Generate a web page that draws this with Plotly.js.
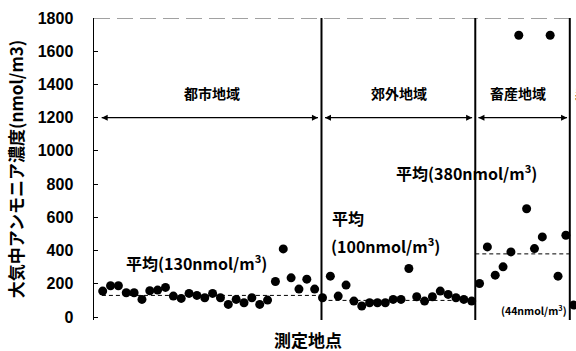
<!DOCTYPE html>
<html>
<head>
<meta charset="utf-8">
<script src="https://cdn.plot.ly/plotly-3.0.1.min.js"></script>
<style>html,body{margin:0;padding:0;background:#fff;}#chart{width:576px;height:351px;}</style>
</head>
<body>
<div id="chart"></div>
<script>
// Region names
const regions = ["都市地域", "郊外地域", "畜産地域", "森林地域"];
// Measured concentrations (nmol/m3) per site, by region
const urbanValues = [156,188,188,146,146,106,158,162,178,126,112,142,130,116,142,116,76,106,86,116,76,102,214,410,236,168,228,168];
const suburbanValues = [116,246,126,192,96,66,86,86,86,106,106,292,122,96,122,156,136,116,106,96];
const livestockValues = [202,422,252,302,392,1696,652,412,482,1696,246,492];
const forestValues = [72];
// Region means (nmol/m3)
const regionMeans = [130, 100, 380, 44];
const meanLabels = ["平均(130nmol/m<sup>3</sup>)", "平均", "(100nmol/m<sup>3</sup>)", "平均(380nmol/m<sup>3</sup>)", "(44nmol/m<sup>3</sup>)"];
// y-axis ticks
const yTicks = [0,200,400,600,800,1000,1200,1400,1600,1800];

const groups = [urbanValues, suburbanValues, livestockValues, forestValues];
let idx = 0;
const xs = [], ys = [];
groups.forEach(g => { g.forEach(v => { xs.push(idx); ys.push(v); idx++; }); });
// boundaries between regions (site index units)
const bounds = [27.87, 47.46, 59.5];
const xMin = -1.108, xMax = 60.29;

const shapes = [];
// top dashed frame line
shapes.push({type:'line', xref:'x', yref:'y', x0:xMin, x1:xMax, y0:1800, y1:1800, line:{color:'#444', width:1, dash:'16px,7px'}});
// separators
bounds.forEach(b => shapes.push({type:'line', xref:'x', yref:'y', x0:b, x1:b, y0:-28, y1:1800, line:{color:'#000', width:2}}));
// mean dashed lines
const meanSpans = [[-0.1, bounds[0]], [bounds[0], bounds[1]], [bounds[1], bounds[2]]];
meanSpans.forEach((s, k) => shapes.push({type:'line', xref:'x', yref:'y', x0:s[0], x1:s[1], y0:regionMeans[k], y1:regionMeans[k], line:{color:'#000', width:1, dash:'4px,3px'}}));

const boldFont = {family:'"Noto Sans CJK JP", "Noto Sans", sans-serif', size:15, color:'#000', weight:'bold'};
const annotations = [];
// region labels
const labelX = [13.9, 37.8, 52.9, 59.85];
regions.forEach((r, k) => annotations.push({x:labelX[k], y:1350, xref:'x', yref:'y', text:'<b>'+r+'</b>', showarrow:false, font:Object.assign({}, boldFont, {size:14}), xanchor: k===3 ? 'left':'center'}));
// mean labels
annotations.push({x:12, y:330, xref:'x', yref:'y', text:'<b>'+meanLabels[0]+'</b>', showarrow:false, font:Object.assign({}, boldFont, {size:16})});
annotations.push({x:29.0, y:596, xref:'x', yref:'y', text:'<b>'+meanLabels[1]+'</b>', showarrow:false, xanchor:'left', font:Object.assign({}, boldFont, {size:16})});
annotations.push({x:28.8, y:432, xref:'x', yref:'y', text:'<b>'+meanLabels[2]+'</b>', showarrow:false, xanchor:'left', font:Object.assign({}, boldFont, {size:16})});
annotations.push({x:46.3, y:872, xref:'x', yref:'y', text:'<b>'+meanLabels[3]+'</b>', showarrow:false, font:Object.assign({}, boldFont, {size:16})});
annotations.push({x:59.4, y:40, xref:'x', yref:'y', text:'<b>'+meanLabels[4]+'</b>', showarrow:false, xanchor:'right', font:Object.assign({}, boldFont, {size:10.5})});
// x title
annotations.push({x:(308-94)/482, xref:'paper', y:(320-340)/302, yref:'paper', yanchor:'middle', xanchor:'center', text:'<b>測定地点</b>', showarrow:false, font:Object.assign({}, boldFont, {size:17})});

const trace = {x:xs, y:ys, type:'scatter', mode:'markers', marker:{color:'#000', size:9}, cliponaxis:true, hoverinfo:'skip'};

// double-headed arrows at 1200 spanning each region
const arrowSpans = [[-0.13, bounds[0]-0.45], [bounds[0]+0.45, bounds[1]-0.4], [bounds[1]+0.4, bounds[2]-0.35]];
const arrowTraces = arrowSpans.map(s => ({x:[s[0], s[1]], y:[1200, 1200], type:'scatter', mode:'lines+markers',
  line:{color:'#000', width:1.2}, marker:{symbol:['arrow-left','arrow-right'], size:6, color:'#000'}, cliponaxis:false, hoverinfo:'skip'}));

const layout = {
  width:576, height:351,
  margin:{l:94, r:0, t:18, b:31, pad:0},
  paper_bgcolor:'#fff', plot_bgcolor:'#fff',
  showlegend:false,
  xaxis:{range:[xMin, xMax], visible:false, showgrid:false, zeroline:false},
  yaxis:{range:[-18, 1800], tickvals:yTicks, ticktext:yTicks.map(String), ticks:'inside', ticklen:4, tickwidth:1, tickcolor:'#000',
    showline:true, linecolor:'#000', linewidth:1.5, showgrid:false, zeroline:false,
    ticklabelstandoff:16,
    tickfont:{family:'"Liberation Sans", Arial, sans-serif', size:16, color:'#000', weight:'bold'},
    title:{text:'<b>大気中アンモニア濃度(nmol/m3)</b>', standoff:10, font:{family:'"Noto Sans CJK JP", sans-serif', size:17, color:'#000', weight:'bold'}}},
  shapes:shapes,
  annotations:annotations
};
Plotly.newPlot('chart', [trace].concat(arrowTraces), layout, {staticPlot:true, displayModeBar:false});
</script>
</body>
</html>
